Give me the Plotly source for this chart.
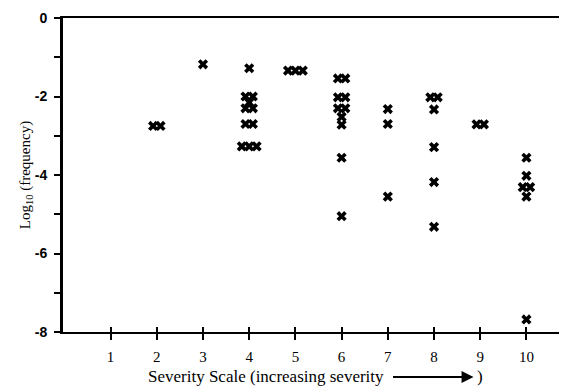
import plotly.graph_objects as go

# data: severity, log10 frequency, number of coincident observations
severity = [2, 3, 4, 4, 4, 4, 4, 4, 5,
            6, 6, 6, 6, 6, 6, 6,
            7, 7, 7,
            8, 8, 8, 8, 8,
            9,
            10, 10, 10, 10, 10]
log_freq = [-2.75, -1.18, -1.28, -2.0, -2.15, -2.3, -2.7, -3.27, -1.34,
            -1.54, -2.02, -2.3, -2.52, -2.72, -3.56, -5.05,
            -2.32, -2.7, -4.55,
            -2.02, -2.33, -3.29, -4.18, -5.32,
            -2.71,
            -3.56, -4.02, -4.31, -4.55, -7.68]
count = [2, 1, 1, 2, 1, 2, 2, 3, 3,
         2, 2, 2, 1, 1, 1, 1,
         1, 1, 1,
         2, 1, 1, 1, 1,
         2,
         1, 1, 2, 1, 1]
x_ticks = [1, 2, 3, 4, 5, 6, 7, 8, 9, 10]
y_ticks = [-8, -7, -6, -5, -4, -3, -2, -1, 0]
y_ticktext = ["-8", "", "-6", "", "-4", "", "-2", "", "0"]

# expand coincident observations side by side
xs, ys = [], []
spread = 0.16
for s, v, n in zip(severity, log_freq, count):
    for i in range(n):
        xs.append(s + (i - (n - 1) / 2) * spread)
        ys.append(v)

fig = go.Figure()
fig.add_trace(go.Scatter(
    x=xs, y=ys, mode="markers",
    marker=dict(symbol="x", size=9, color="black", line=dict(width=0)),
    showlegend=False, hoverinfo="skip"))
# invisible trace on overlay axis for inward tick halves
fig.add_trace(go.Scatter(x=[None], y=[None], xaxis="x2", showlegend=False))

serif = "Liberation Serif, Times New Roman, serif"
sans = "Liberation Sans, Arial, sans-serif"

# page body has an 8px margin; figure is sized to fit the window
W, H = 559, 380
L, R, T, B = 55, 2, 10, 56
pw, ph = W - L - R, H - T - B
xr = [-0.03, 10.77]


def px(xabs):
    return (xabs - 8 - L) / pw


def py(yabs):
    return (H - B - (yabs - 8)) / ph


fig.update_layout(
    width=W, height=H,
    margin=dict(l=L, r=R, t=T, b=B),
    paper_bgcolor="white", plot_bgcolor="white",
    xaxis=dict(range=xr, tickvals=x_ticks, ticks="outside", ticklen=6,
               tickwidth=2, tickcolor="black", showgrid=False, zeroline=False,
               showline=True, linecolor="black", linewidth=2, mirror=True,
               tickfont=dict(family=serif, size=15, color="black"),
               ticklabelstandoff=4),
    xaxis2=dict(range=xr, overlaying="x", tickvals=x_ticks, ticks="inside",
                ticklen=5, tickwidth=2, tickcolor="black", showticklabels=False,
                showgrid=False, zeroline=False, side="bottom", showline=False),
    yaxis=dict(range=[-8, 0], tickvals=y_ticks, ticktext=y_ticktext,
               ticks="outside", ticklen=6, tickwidth=2, tickcolor="black",
               showgrid=False, zeroline=False, showline=True, linecolor="black",
               linewidth=3, mirror=True,
               tickfont=dict(family=sans, size=14, color="black", weight="bold"),
               ticklabelstandoff=4,
               title=dict(text="Log<sub>10</sub> (frequency)",
                          font=dict(family=serif, size=15, color="black"),
                          standoff=1)),
    annotations=[
        dict(text="Severity Scale (increasing severity", xref="paper", yref="paper",
             x=px(147), y=py(376), xanchor="left", yanchor="middle",
             showarrow=False, font=dict(family=serif, size=17, color="black")),
        dict(text="", xref="paper", yref="paper", x=px(476),
             y=py(377), ax=-82, ay=0, showarrow=True, arrowhead=2,
             arrowsize=1.2, arrowwidth=2, arrowcolor="black"),
        dict(text=")", xref="paper", yref="paper", x=px(483),
             y=py(376), xanchor="center", yanchor="middle",
             showarrow=False, font=dict(family=serif, size=17, color="black")),
    ],
)

fig.write_html("out.html")
